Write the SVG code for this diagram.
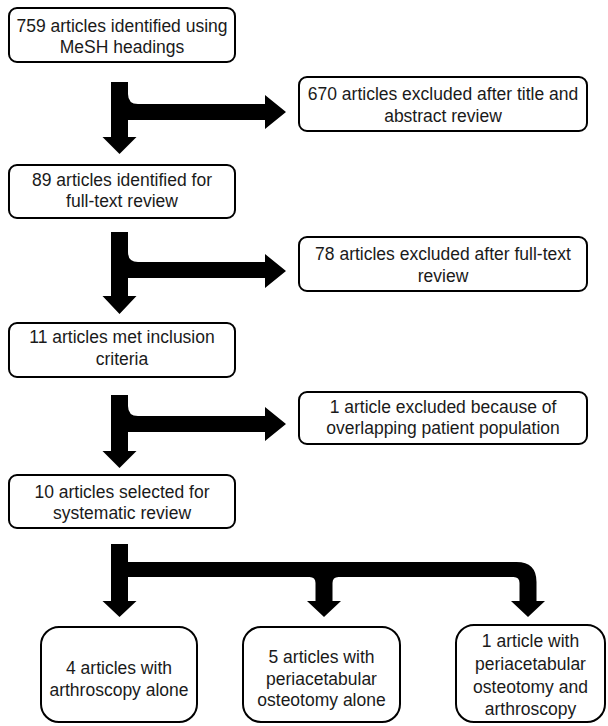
<svg xmlns="http://www.w3.org/2000/svg" width="608" height="726" viewBox="0 0 608 726">
<style>
.box{fill:#fff;stroke:#000;stroke-width:2}
.t{font-family:"Liberation Sans",Arial,sans-serif;font-size:17.5px;fill:#1a1a1a;text-anchor:middle}
.arr{fill:#000}
</style>
<rect width="608" height="726" fill="#fff"/>
<g id="connectors">
<path class="arr" d="M111,82 H128 V94 Q128,104 138,104 H265 V95 L286,112 L265,129 V120 H128 V137 H136.5 L119.5,154 L102.5,137 H111 Z"/>
<path class="arr" d="M111,232 H128 V252 Q128,262 138,262 H265 V254 L286,271 L265,288 V278 H128 V296 H136.5 L119.5,314 L102.5,296 H111 Z"/>
<path class="arr" d="M111,395 H128 V406 Q128,416 138,416 H265 V407 L286,424 L265,441 V432 H128 V451 H136.5 L119.5,468 L102.5,451 H111 Z"/>
<path class="arr" d="M111,544 H128 V562 H516.5 Q536.5,562 536.5,582 V601 H545 L528,617 L511,601 H519.5 V583 Q519.5,577 513.5,577 H338.5 Q332.5,577 332.5,583 V601 H341 L324,617 L307,601 H315.5 V583 Q315.5,577 309.5,577 H128 V601 H136.5 L119.5,617 L102.5,601 H111 Z"/>
</g>
<g id="n1"><rect class="box" x="9" y="8" width="226" height="54" rx="8"/><text class="t" x="122" y="32">759 articles identified using</text><text class="t" x="122" y="53">MeSH headings</text></g>
<g id="n2"><rect class="box" x="299" y="77" width="288" height="54" rx="8"/><text class="t" x="443" y="100">670 articles excluded after title and</text><text class="t" x="443" y="122">abstract review</text></g>
<g id="n3"><rect class="box" x="9" y="165" width="226" height="53" rx="8"/><text class="t" x="122" y="186">89 articles identified for</text><text class="t" x="122" y="207">full-text review</text></g>
<g id="n4"><rect class="box" x="299" y="237" width="288" height="54" rx="8"/><text class="t" x="443" y="260">78 articles excluded after full-text</text><text class="t" x="443" y="282">review</text></g>
<g id="n5"><rect class="box" x="9" y="323" width="226" height="54" rx="8"/><text class="t" x="122" y="343">11 articles met inclusion</text><text class="t" x="122" y="365">criteria</text></g>
<g id="n6"><rect class="box" x="299" y="392" width="288" height="52" rx="8"/><text class="t" x="443" y="413">1 article excluded because of</text><text class="t" x="443" y="434">overlapping patient population</text></g>
<g id="n7"><rect class="box" x="9" y="475" width="226" height="53" rx="8"/><text class="t" x="122" y="498">10 articles selected for</text><text class="t" x="122" y="519">systematic review</text></g>
<g id="n8"><rect class="box" x="41" y="627" width="156" height="95" rx="18"/><text class="t" x="119" y="674">4 articles with</text><text class="t" x="119" y="696">arthroscopy alone</text></g>
<g id="n9"><rect class="box" x="243" y="627" width="157" height="95" rx="18"/><text class="t" x="321.5" y="663">5 articles with</text><text class="t" x="321.5" y="685">periacetabular</text><text class="t" x="321.5" y="706">osteotomy alone</text></g>
<g id="n10"><rect class="box" x="456" y="625" width="149" height="97" rx="18"/><text class="t" x="530.5" y="647">1 article with</text><text class="t" x="530.5" y="670">periacetabular</text><text class="t" x="530.5" y="693">osteotomy and</text><text class="t" x="530.5" y="715">arthroscopy</text></g>
</svg>
